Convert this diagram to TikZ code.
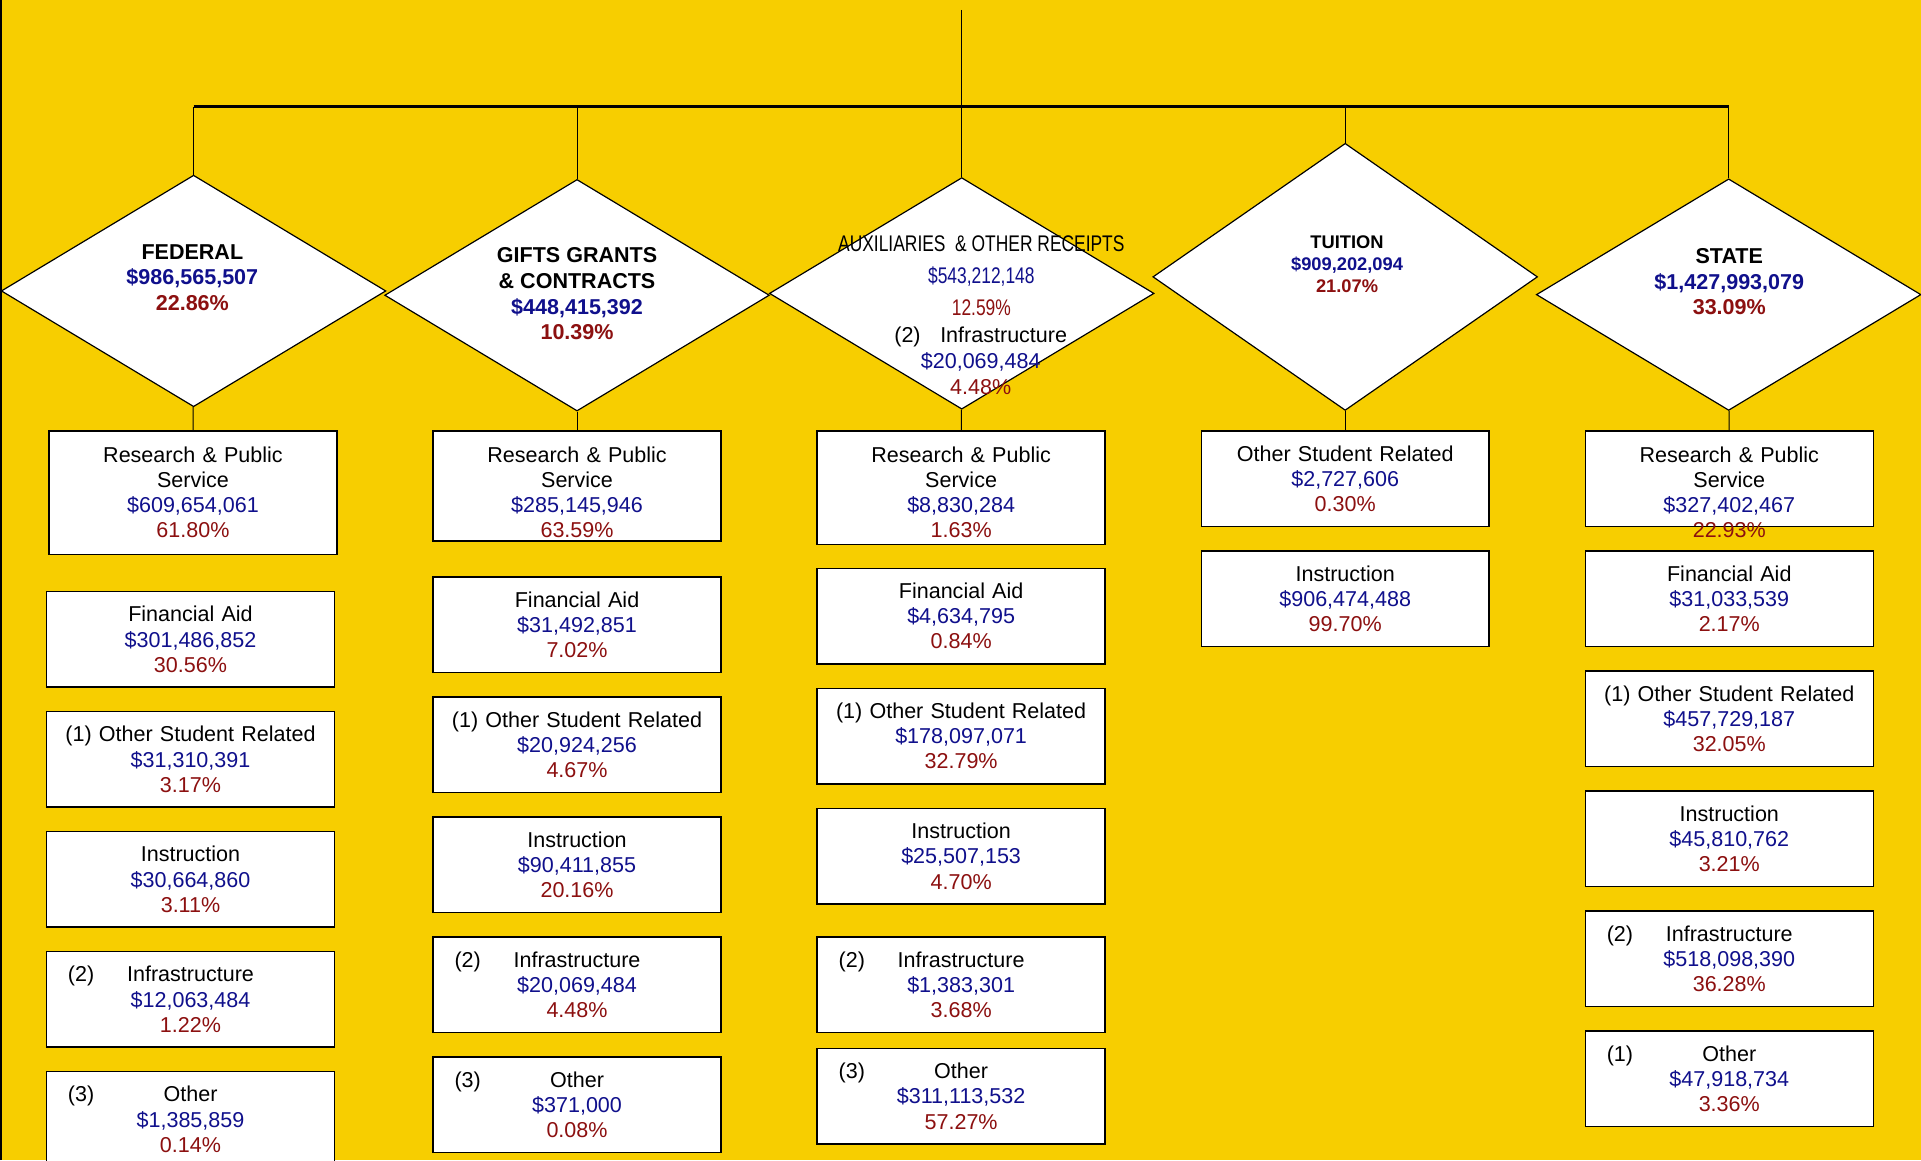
\documentclass[tikz,border=0pt]{standalone}
\usepackage{fontspec}
\setmainfont{Liberation Sans}
\usepackage{xcolor}
\usetikzlibrary{positioning,shapes.geometric}

\definecolor{bgyellow}{RGB}{247,206,0}
\definecolor{amtblue}{RGB}{16,16,140}
\definecolor{pctred}{RGB}{140,16,16}

\newcommand{\amt}[1]{\textcolor{amtblue}{#1}}
\newcommand{\pct}[1]{\textcolor{pctred}{#1}}
\newcommand{\numbered}[2]{\rlap{\hspace{0.25cm}#1}\hfill #2\hfill\null}
\newcommand{\narrow}[1]{\scalebox{0.77}[1]{#1}}

\begin{document}
\begin{tikzpicture}[
    source/.style={diamond, draw, fill=white, line width=0.55pt, inner sep=0pt, minimum width=6.28cm, minimum height=3.78cm},
    head/.style={align=center, font=\bfseries\fontsize{10}{11.9}\selectfont},
    box/.style={rectangle, draw, fill=white, line width=0.7pt, minimum width=4.7cm, minimum height=1.56cm, text width=4.5cm, inner xsep=0.1cm, inner ysep=1pt, align=center, font=\fontsize{10}{11.7}\selectfont},
    boxtext/.style={align=center, text width=4.5cm, font=\fontsize{10}{11.7}\selectfont},
    link/.style={line width=0.45pt},
    bus/.style={line width=1.2pt}
]

% Page
\useasboundingbox (0,0) rectangle (31.36,18.94);
\clip (0,0) rectangle (31.36,18.94);
\fill[bgyellow] (0,0) rectangle (31.36,18.94);
\draw[line width=1.1pt] (0.02,0) -- (0.02,18.94);

% Revenue sources
\node[source] (fed) at (3.16,14.19) {};
\node[source] (gifts) at (9.42,14.12) {};
\node[source] (aux) at (15.70,14.15) {};
\node[source, minimum height=4.36cm] (tuition) at (21.96,14.42) {};
\node[source] (state) at (28.22,14.13) {};

% Tree lines
\coordinate (top) at (15.70,18.78);
\coordinate (busleft) at (3.16,17.2);
\coordinate (busright) at (28.22,17.2);
\draw[bus] (busleft) -- (busright);
\draw[link] (top) -- (top |- busleft);
\foreach \src in {fed,gifts,aux,tuition,state}
  \draw[link] (\src.north |- busleft) -- (\src.north);

% Source labels
\node[head] (fedtxt) at (3.14,14.41) {FEDERAL\\\amt{\$986,565,507}\\\pct{22.86\%}};
\node[head] (giftstxt) at (9.42,14.14) {GIFTS GRANTS\\\& CONTRACTS\\\amt{\$448,415,392}\\\pct{10.39\%}};
\node[align=center, font=\fontsize{10.5}{15}\selectfont] (auxtxt) at (16.02,14.44)
  {\narrow{AUXILIARIES~~\& OTHER RECEIPTS}\\\narrow{\amt{\$543,212,148}}\\\narrow{\pct{12.59\%}}};
\node[align=center, font=\fontsize{10}{11.9}\selectfont] (auxsub) at (16.01,13.05)
  {(2)\hspace{0.32cm}Infrastructure\\\amt{\$20,069,484}\\\pct{4.48\%}};
\node[head, font=\bfseries\fontsize{8.5}{10.2}\selectfont] (tuitiontxt) at (21.99,14.62) {TUITION\\\amt{\$909,202,094}\\\pct{21.07\%}};
\node[head] (statetxt) at (28.23,14.34) {STATE\\\amt{\$1,427,993,079}\\\pct{33.09\%}};

% Federal
\node[box, anchor=north, minimum height=2.02cm] (fedrps) at (3.15,11.92) {};
\node[boxtext] (fedrpstxt) at (3.15,10.9) {Research \& Public\\Service\\\amt{\$609,654,061}\\\pct{61.80\%}};
\node[box, below=0.58cm of fedrps, xshift=-0.04cm] (fedaid) {Financial Aid\\\amt{\$301,486,852}\\\pct{30.56\%}};
\node[box, below=0.375cm of fedaid] (fedosr) {(1) Other Student Related\\\amt{\$31,310,391}\\\pct{3.17\%}};
\node[box, below=0.375cm of fedosr] (fedins) {Instruction\\\amt{\$30,664,860}\\\pct{3.11\%}};
\node[box, below=0.375cm of fedins] (fedinf) {\numbered{(2)}{Infrastructure}\\\amt{\$12,063,484}\\\pct{1.22\%}};
\node[box, below=0.375cm of fedinf] (fedoth) {\numbered{(3)}{Other}\\\amt{\$1,385,859}\\\pct{0.14\%}};

% Gifts grants & contracts
\node[box, anchor=north, minimum height=1.8cm] (giftsrps) at (9.42,11.92) {};
\node[boxtext] (giftsrpstxt) at (9.42,10.9) {Research \& Public\\Service\\\amt{\$285,145,946}\\\pct{63.59\%}};
\node[box, below=0.56cm of giftsrps] (giftsaid) {Financial Aid\\\amt{\$31,492,851}\\\pct{7.02\%}};
\node[box, below=0.375cm of giftsaid] (giftsosr) {(1) Other Student Related\\\amt{\$20,924,256}\\\pct{4.67\%}};
\node[box, below=0.375cm of giftsosr] (giftsins) {Instruction\\\amt{\$90,411,855}\\\pct{20.16\%}};
\node[box, below=0.375cm of giftsins] (giftsinf) {\numbered{(2)}{Infrastructure}\\\amt{\$20,069,484}\\\pct{4.48\%}};
\node[box, below=0.375cm of giftsinf] (giftsoth) {\numbered{(3)}{Other}\\\amt{\$371,000}\\\pct{0.08\%}};

% Auxiliaries & other receipts
\node[box, anchor=north, minimum height=1.86cm] (auxrps) at (15.69,11.92) {};
\node[boxtext] (auxrpstxt) at (15.69,10.9) {Research \& Public\\Service\\\amt{\$8,830,284}\\\pct{1.63\%}};
\node[box, below=0.36cm of auxrps] (auxaid) {Financial Aid\\\amt{\$4,634,795}\\\pct{0.84\%}};
\node[box, below=0.375cm of auxaid] (auxosr) {(1) Other Student Related\\\amt{\$178,097,071}\\\pct{32.79\%}};
\node[box, below=0.375cm of auxosr] (auxins) {Instruction\\\amt{\$25,507,153}\\\pct{4.70\%}};
\node[box, below=0.515cm of auxins] (auxinf) {\numbered{(2)}{Infrastructure}\\\amt{\$1,383,301}\\\pct{3.68\%}};
\node[box, below=0.235cm of auxinf] (auxoth) {\numbered{(3)}{Other}\\\amt{\$311,113,532}\\\pct{57.27\%}};

% Tuition
\node[box, anchor=north] (tuitionosr) at (21.96,11.92) {Other Student Related\\\amt{\$2,727,606}\\\pct{0.30\%}};
\node[box, below=0.375cm of tuitionosr] (tuitionins) {Instruction\\\amt{\$906,474,488}\\\pct{99.70\%}};

% State
\node[box, anchor=north] (staterps) at (28.23,11.92) {};
\node[boxtext] (staterpstxt) at (28.23,10.9) {Research \& Public\\Service\\\amt{\$327,402,467}\\\pct{22.93\%}};
\node[box, below=0.375cm of staterps] (stateaid) {Financial Aid\\\amt{\$31,033,539}\\\pct{2.17\%}};
\node[box, below=0.375cm of stateaid] (stateosr) {(1) Other Student Related\\\amt{\$457,729,187}\\\pct{32.05\%}};
\node[box, below=0.375cm of stateosr] (stateins) {Instruction\\\amt{\$45,810,762}\\\pct{3.21\%}};
\node[box, below=0.375cm of stateins] (stateinf) {\numbered{(2)}{Infrastructure}\\\amt{\$518,098,390}\\\pct{36.28\%}};
\node[box, below=0.375cm of stateinf] (stateoth) {\numbered{(1)}{Other}\\\amt{\$47,918,734}\\\pct{3.36\%}};

% Source to first box
\foreach \src/\dst in {fed/fedrps, gifts/giftsrps, aux/auxrps, tuition/tuitionosr, state/staterps}
  \draw[link] (\src) -- (\dst);

\end{tikzpicture}
\end{document}
